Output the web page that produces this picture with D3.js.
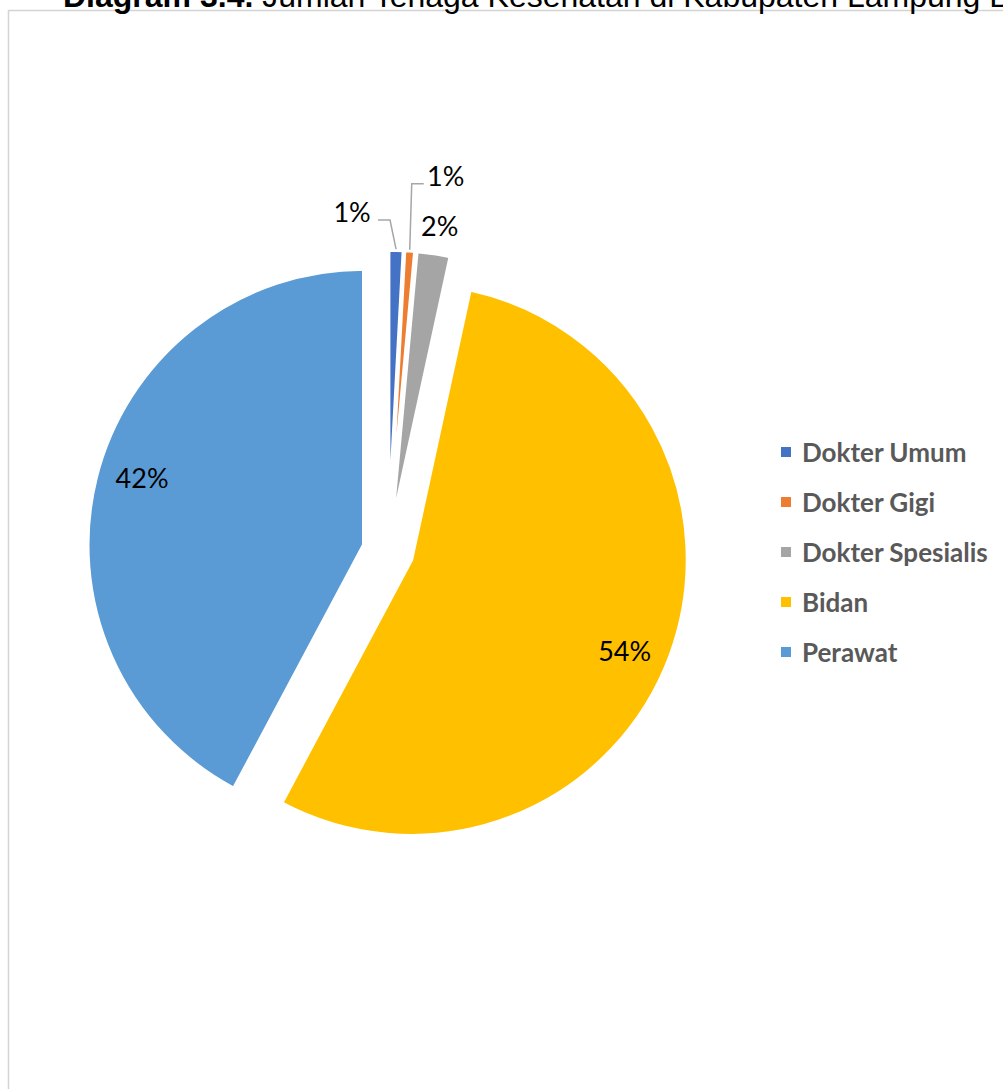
<!DOCTYPE html>
<html>
<head>
<meta charset="utf-8">
<script src="https://cdn.jsdelivr.net/npm/d3@7/dist/d3.min.js"></script>
<style>
  html, body { margin: 0; padding: 0; background: #fff; overflow: hidden; }
  svg { display: block; }
</style>
</head>
<body>
<svg id="chart" width="1003" height="1089"></svg>
<script>
// ---- data ----
const categories = ["Dokter Umum", "Dokter Gigi", "Dokter Spesialis", "Bidan", "Perawat"];
const values = [0.85, 0.6, 1.95, 54.4, 42.2];
const colors = ["#4472C4", "#ED7D31", "#A5A5A5", "#FFC000", "#5B9BD5"];
const titleBold = "Diagram 3.4.";
const titleRest = " Jumlah Tenaga Kesehatan di Kabupaten Lampung Barat";

// ---- layout ----
const W = 1003, H = 1089;
const cx = 388, cy = 551, R = 276, explode = 25;
// outside labels for thin slices: offsets from slice outer point (label centre), optional leader elbow
const outsideLabels = [
  { i: 0, dx: -44, dy: -39, leader: [[-6, -30], [-18, -30]] },
  { i: 1, dx: 36, dy: -75, leader: [[2, -67], [14, -67]] },
  { i: 2, dx: 6, dy: -28, leader: null }
];
const insideLabelShiftDeg = 3;
const insideLabelRadius = 0.84;

const svg = d3.select("#chart");

// chart frame
svg.append("rect")
  .attr("x", 8.5).attr("y", 10.5)
  .attr("width", W + 20).attr("height", H + 20)
  .attr("fill", "#fff")
  .attr("stroke", "#d4d4d4").attr("stroke-width", 1.5);

// title (cropped at top)
const title = svg.append("text")
  .attr("x", 63).attr("y", 7)
  .attr("font-family", "'Liberation Sans', Arial, sans-serif")
  .attr("font-size", 32)
  .attr("fill", "#000");
title.append("tspan").attr("font-weight", "bold").text(titleBold);
title.append("tspan").attr("font-weight", "normal").text(titleRest);

const total = d3.sum(values);
const pie = d3.pie().sort(null).value(d => d).startAngle(0).endAngle(2 * Math.PI);
const arcs = pie(values);
const arc = d3.arc().innerRadius(0).outerRadius(R);

const g = svg.append("g").attr("transform", `translate(${cx},${cy})`);

function offsetOf(a) {
  const mid = (a.startAngle + a.endAngle) / 2;
  return [explode * Math.sin(mid), -explode * Math.cos(mid)];
}

g.selectAll("path.slice")
  .data(arcs)
  .join("path")
  .attr("class", "slice")
  .attr("transform", d => { const o = offsetOf(d); return `translate(${o[0]},${o[1]})`; })
  .attr("d", arc)
  .attr("fill", (d, i) => colors[i])
  .attr("stroke", "#fff")
  .attr("stroke-width", 3.5)
  .attr("stroke-linejoin", "round");

const pct = v => Math.round(v / total * 100) + "%";
const labelFont = "Lato, 'Noto Sans', sans-serif";

// inside labels for big slices
arcs.forEach((a, i) => {
  if (outsideLabels.some(o => o.i === i)) return;
  const mid = (a.startAngle + a.endAngle) / 2 + insideLabelShiftDeg * Math.PI / 180;
  const o = offsetOf(a);
  const r = R * insideLabelRadius;
  g.append("text")
    .attr("x", o[0] + r * Math.sin(mid))
    .attr("y", o[1] - r * Math.cos(mid))
    .attr("text-anchor", "middle")
    .attr("dominant-baseline", "central")
    .attr("font-family", labelFont)
    .attr("font-size", 27)
    .attr("fill", "#000")
    .text(pct(values[i]));
});

// outside labels for thin slices
outsideLabels.forEach(l => {
  const a = arcs[l.i];
  const mid = (a.startAngle + a.endAngle) / 2;
  const o = offsetOf(a);
  const px = o[0] + R * Math.sin(mid), py = o[1] - R * Math.cos(mid);
  if (l.leader) {
    const pts = [[px, py - 1]].concat(l.leader.map(p => [px + p[0], py + p[1]]));
    g.append("path")
      .attr("d", d3.line()(pts))
      .attr("fill", "none")
      .attr("stroke", "#a6a6a6")
      .attr("stroke-width", 1.5);
  }
  g.append("text")
    .attr("x", px + l.dx)
    .attr("y", py + l.dy)
    .attr("text-anchor", "middle")
    .attr("dominant-baseline", "central")
    .attr("font-family", labelFont)
    .attr("font-size", 27)
    .attr("fill", "#000")
    .text(pct(values[l.i]));
});

// legend
const leg = svg.append("g").attr("transform", "translate(781,452)");
const items = leg.selectAll("g").data(categories).join("g")
  .attr("transform", (d, i) => `translate(0,${i * 50})`);
items.append("rect")
  .attr("x", 0).attr("y", -5).attr("width", 10).attr("height", 10)
  .attr("fill", (d, i) => colors[i]);
items.append("text")
  .attr("x", 21).attr("y", 0)
  .attr("dominant-baseline", "central")
  .attr("font-family", labelFont)
  .attr("font-weight", "bold")
  .attr("font-size", 26)
  .attr("fill", "#595959")
  .text(d => d);
</script>
</body>
</html>
